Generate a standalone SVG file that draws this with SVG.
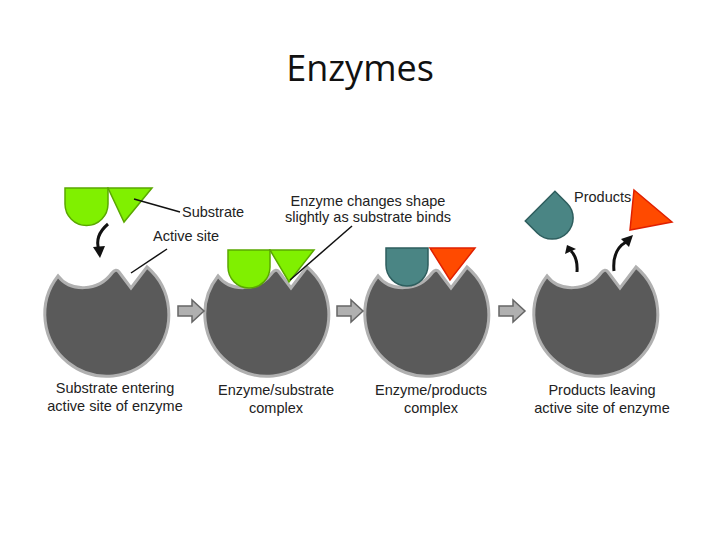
<svg xmlns="http://www.w3.org/2000/svg" width="720" height="540" viewBox="0 0 720 540">
<defs>
<style>
.t{font-family:"Liberation Sans",Arial,sans-serif;font-size:14.5px;fill:#222}
.enz{fill:#5a5a5a;stroke:#b0b0b0;stroke-width:3}
.g{fill:#80f000;stroke:#5aa800;stroke-width:1.5}
.b{fill:#4a8584;stroke:#2e5e5e;stroke-width:1.5}
.o{fill:#ff4a00;stroke:#e02000;stroke-width:1.5}
.ba{fill:#b0b0b0;stroke:#666;stroke-width:1.5}
.ln{stroke:#111;stroke-width:1.5;fill:none}
.ca{stroke:#111;stroke-width:3;fill:none}
</style>
<path id="E" class="enz" d="M-52,-34 C-40,-18 -12,-18 2,-37 Q6,-42 9,-38 L21,-22 L37,-43 A62,62 0 1 1 -52,-34 Z"/>
<path id="BA" class="ba" d="M0,-5 H14 V-11 L26,0 L14,11 V5 H0 Z"/>
</defs>
<rect width="720" height="540" fill="#fff"/>
<text x="360" y="81" text-anchor="middle" font-family="'Open Sans','Liberation Sans',sans-serif" font-size="36" fill="#111">Enzymes</text>
<g id="enzyme1"><use href="#E" x="110" y="310"/></g>
<g id="enzyme2"><use href="#E" x="270" y="310"/>
<path class="g" d="M228,250 H270 V267 A21,21 0 0 1 228,267 Z"/><path class="g" d="M270,250 H314 L289,282 Z"/></g>
<g id="enzyme3"><use href="#E" x="430" y="310"/>
<path class="b" d="M386,248 H428 V265 A21,21 0 0 1 386,265 Z"/><path class="o" d="M430,248 H475 L450,280 Z"/></g>
<g id="enzyme4"><use href="#E" x="599" y="310"/></g>
<g id="substrate"><path class="g" d="M65,188 H108 V204 A21.5,21.5 0 0 1 65,204 Z"/><path class="g" d="M108,188 H152 L124,222 Z"/></g>
<g id="products"><path class="b" transform="translate(550,216) rotate(-45)" d="M-21,-14 H21 V3 A21,21 0 0 1 -21,3 Z"/><path class="o" d="M634,190 L672,222 L630,230 Z"/></g>
<g id="connectors">
<use href="#BA" x="178" y="311"/><use href="#BA" x="337" y="311"/><use href="#BA" x="499" y="311"/>
<path class="ca" d="M108,224 Q94,236 99,250"/><path d="M93,247 L100,258 L105,246 Z" fill="#111"/>
<path class="ca" d="M577,272 Q578,258 571,251"/><path d="M565,254 L567,245 L576,249 Z" fill="#111"/>
<path class="ca" d="M614,271 Q612,250 626,242"/><path d="M621,239 L633,235 L629,247 Z" fill="#111"/>
<path class="ln" d="M134,199 L180,212"/>
<path class="ln" d="M167,249 L131,273"/>
<path class="ln" d="M352,226 L290,280"/>
</g>
<g id="labels">
<text class="t" x="182" y="217">Substrate</text>
<text class="t" x="153" y="241">Active site</text>
<text class="t" x="368" y="206" text-anchor="middle">Enzyme changes shape</text>
<text class="t" x="368" y="222" text-anchor="middle">slightly as substrate binds</text>
<text class="t" x="574" y="202">Products</text>
<text class="t" x="115" y="393" text-anchor="middle">Substrate entering</text>
<text class="t" x="115" y="411" text-anchor="middle">active site of enzyme</text>
<text class="t" x="276" y="395" text-anchor="middle">Enzyme/substrate</text>
<text class="t" x="276" y="413" text-anchor="middle">complex</text>
<text class="t" x="431" y="395" text-anchor="middle">Enzyme/products</text>
<text class="t" x="431" y="413" text-anchor="middle">complex</text>
<text class="t" x="602" y="395" text-anchor="middle">Products leaving</text>
<text class="t" x="602" y="413" text-anchor="middle">active site of enzyme</text>
</g>
</svg>
